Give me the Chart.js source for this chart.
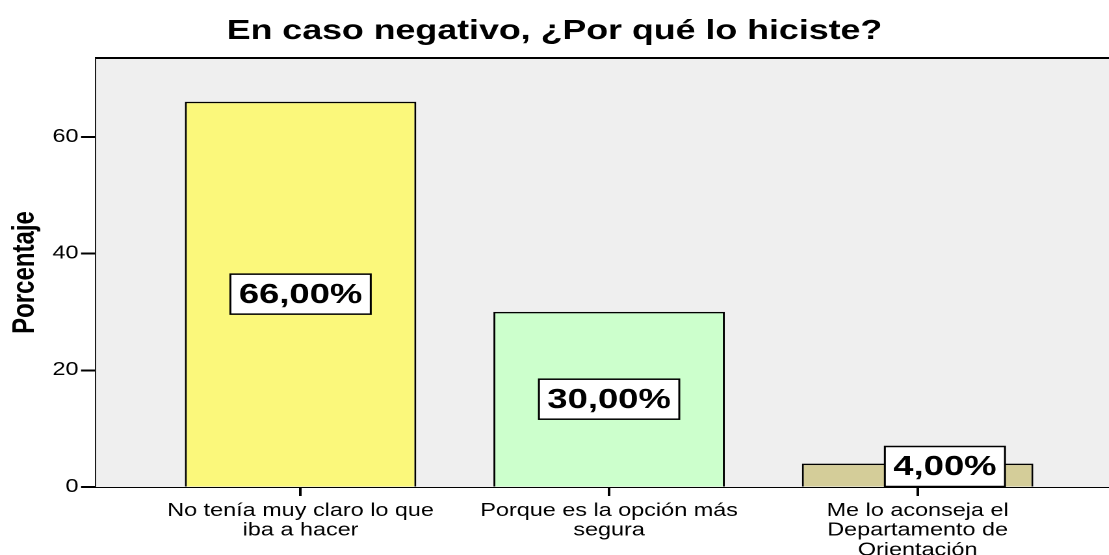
<!DOCTYPE html>
<html>
<head>
<meta charset="utf-8">
<script src="https://cdn.jsdelivr.net/npm/chart.js@4/dist/chart.umd.min.js"></script>
<style>
    html, body { margin: 0; padding: 0; background: #fff; overflow: hidden; }
    /* the original picture is stretched horizontally, so we stretch the canvas too */
    #wrap { width: 853px; height: 555px; transform: scaleX(1.3); transform-origin: 0 0; }
</style>
</head>
<body>
<div id="wrap"><canvas id="chart" width="853" height="555"></canvas></div>
<script>
// Chart data
const categories = [
    ['No tenía muy claro lo que', 'iba a hacer'],
    ['Porque es la opción más', 'segura'],
    ['Me lo aconseja el', 'Departamento de', 'Orientación']
];
const values = [66, 30, 4];
const barColors = ['#fbf87b', '#ccffcc', '#d4cd99'];
const yTicks = [0, 20, 40, 60];

const FONT = "'Liberation Sans', Arial, sans-serif";

// Gray plot background with top frame line
const plotFrame = {
    id: 'plotFrame',
    beforeDatasetsDraw(chart) {
        const { ctx, chartArea: a } = chart;
        ctx.save();
        ctx.fillStyle = '#efefef';
        ctx.fillRect(a.left, a.top, a.right - a.left, a.bottom - a.top);
        ctx.strokeStyle = '#000';
        ctx.lineWidth = 2;
        ctx.beginPath();
        ctx.moveTo(a.left, a.top);
        ctx.lineTo(a.right, a.top);
        ctx.stroke();
        ctx.restore();
    }
};

// Boxed percentage labels in the middle of each bar
const boxLabels = {
    id: 'boxLabels',
    afterDatasetsDraw(chart) {
        const { ctx } = chart;
        const meta = chart.getDatasetMeta(0);
        ctx.save();
        ctx.font = 'bold 28px ' + FONT;
        ctx.textAlign = 'center';
        ctx.textBaseline = 'middle';
        meta.data.forEach((bar, i) => {
            const text = values[i].toFixed(2).replace('.', ',') + '%';
            const w = ctx.measureText(text).width + 13;
            const h = 40;
            let cx = bar.x;
            let cy = (bar.y + bar.base) / 2;
            if (cy + h / 2 > bar.base) {
                // short bar: box sits on the axis, nudged to the right
                cy = bar.base - h / 2;
                cx += 21;
            }
            ctx.fillStyle = '#fff';
            ctx.fillRect(cx - w / 2, cy - h / 2, w, h);
            ctx.strokeStyle = '#000';
            ctx.lineWidth = 1.5;
            ctx.strokeRect(cx - w / 2, cy - h / 2, w, h);
            ctx.fillStyle = '#000';
            ctx.fillText(text, cx, cy + 1);
        });
        ctx.restore();
    }
};

const ctx = document.getElementById('chart').getContext('2d');
new Chart(ctx, {
    type: 'bar',
    data: {
        datasets: [{
            data: categories.map((c, i) => ({ x: i + 1, y: values[i] })),
            backgroundColor: barColors,
            borderColor: '#000',
            borderWidth: 1.5,
            barPercentage: 0.75,
            categoryPercentage: 1
        }]
    },
    options: {
        responsive: false,
        animation: false,
        devicePixelRatio: 2,
        layout: { padding: 0 },
        plugins: {
            legend: { display: false },
            tooltip: { enabled: false },
            title: {
                display: true,
                text: 'En caso negativo, ¿Por qué lo hiciste?',
                color: '#000',
                font: { family: FONT, size: 27.5, weight: 'bold' },
                padding: { top: 15, bottom: 10 }
            }
        },
        scales: {
            x: {
                type: 'linear',
                offset: false,
                min: 0.337,
                max: 3.62,
                afterBuildTicks: scale => { scale.ticks = categories.map((c, i) => ({ value: i + 1 })); },
                afterFit: scale => { scale.height = 68; },
                grid: { offset: false, drawOnChartArea: false, color: '#000', tickLength: 9, tickWidth: 2 },
                border: { color: '#000', width: 2 },
                ticks: {
                    color: '#000',
                    autoSkip: false,
                    maxRotation: 0,
                    padding: 5,
                    font: { family: FONT, size: 18, lineHeight: 1.1 },
                    callback: value => categories[value - 1]
                }
            },
            y: {
                min: 0,
                max: 73.5,
                afterBuildTicks: scale => { scale.ticks = yTicks.map(v => ({ value: v })); },
                afterFit: scale => { scale.width = 73.85; },
                grid: { drawOnChartArea: false, color: '#000', tickLength: 11.5, tickWidth: 2 },
                border: { color: '#000', width: 2 },
                ticks: {
                    color: '#000',
                    padding: 2,
                    font: { family: FONT, size: 18 }
                },
                title: {
                    display: true,
                    text: 'Porcentaje',
                    color: '#000',
                    font: { family: FONT, size: 24, weight: 'bold' },
                    padding: { top: 5, bottom: 0 }
                }
            }
        }
    },
    plugins: [plotFrame, boxLabels]
});
</script>
</body>
</html>
